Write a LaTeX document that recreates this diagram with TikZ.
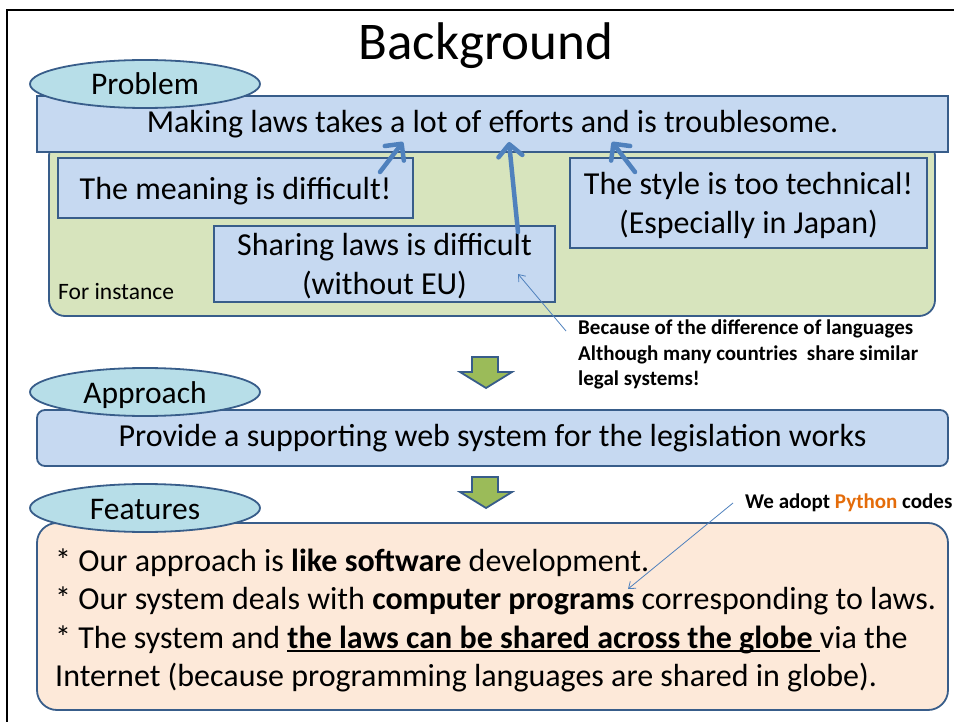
\documentclass[tikz,border=0pt]{standalone}
\usepackage{fontspec}
\setmainfont{Carlito}
\usetikzlibrary{arrows.meta,shapes.geometric}
\definecolor{barfill}{HTML}{C6D9F1}
\definecolor{edge}{HTML}{385D8A}
\definecolor{ellfill}{HTML}{B7DEE8}
\definecolor{greenfill}{HTML}{D7E4BD}
\definecolor{arrowgreen}{HTML}{9BBB59}
\definecolor{peach}{HTML}{FDE9D9}
\definecolor{thickblue}{HTML}{4F81BD}
\definecolor{pyorange}{HTML}{E46C0A}
\newcommand{\ulbold}[1]{\setbox0\hbox{\textbf{#1}}\rlap{\rule[-3.5pt]{\wd0}{1.6pt}}\box0}
\tikzset{
  bar/.style={draw=edge, fill=barfill, line width=1.8pt, inner sep=0pt},
  tag/.style={ellipse, draw=edge, fill=ellfill, line width=1.8pt, minimum width=230pt, minimum height=48pt, inner sep=0pt, text height=22pt, text depth=0pt, font=\fontsize{31.5}{36}\selectfont},
  bigtxt/.style={font=\fontsize{32}{39}\selectfont},
  flat/.style={text depth=0pt},
  featline/.style={anchor=base west, inner sep=0pt, font=\fontsize{32}{38}\selectfont},
  thickarrow/.style={draw=thickblue, line width=4.5pt, line cap=round, -{Straight Barb[length=12pt,width=24pt,round]}},
  thinarrow/.style={draw=thickblue, line width=0.8pt, -{Straight Barb[length=6pt,width=9pt]}},
  blockarrow/.style={draw=edge, fill=arrowgreen, line width=1.8pt, line join=miter},
  note/.style={inner sep=0pt, font=\fontsize{21}{25.5}\selectfont\bfseries},
}
\begin{document}
\begin{tikzpicture}[x=1pt,y=-1pt]
\useasboundingbox (0,0) rectangle (954,722);
% slide frame
\draw[line width=2pt] (7,730) -- (7,10) -- (960,10);
% title
\node[font=\fontsize{53}{60}\selectfont] (title) at (486,46) {Background};
% green "for instance" area
\draw[draw=edge, fill=greenfill, line width=1.8pt, rounded corners=16pt] (49,140) rectangle (935,316);
\node[anchor=base west, inner sep=0pt, font=\fontsize{23.5}{28}\selectfont] (forinst) at (58,300) {For instance};
% problem bar
\node[bar, minimum width=911pt, minimum height=56pt, bigtxt] (problem) at (492.5,124) {Making laws takes a lot of efforts and is troublesome.};
\node[tag] (problemtag) at (145,84) {Problem};
% sub boxes
\node[bar, flat, minimum width=355pt, minimum height=60pt, bigtxt] (meaning) at (235.5,188) {The meaning is difficult!};
\node[bar, flat, minimum width=341pt, minimum height=76pt, bigtxt, align=center] (sharing) at (384.5,264) {Sharing laws is difficult\\(without EU)};
\node[bar, flat, minimum width=357pt, minimum height=90pt, bigtxt, align=center] (style) at (748.5,203) {The style is too technical!\\(Especially in Japan)};
% thick arrows
\coordinate (a1s) at (380,172);
\coordinate (a1e) at (403,142);
\coordinate (a2s) at (518,232);
\coordinate (a2e) at (509,142);
\coordinate (a3s) at (635,172);
\coordinate (a3e) at (612,142);
\draw[thickarrow] (a1s) -- (a1e);
\draw[thickarrow] (a2s) -- (a2e);
\draw[thickarrow] (a3s) -- (a3e);
% callout
\node[note, anchor=north west, align=left] (callout) at (578,320) {Because of the difference of languages\\Although many countries\ \ share similar\\legal systems!};
\coordinate (c1s) at (566,331);
\coordinate (c1e) at (518,274);
\draw[thinarrow] (c1s) -- (c1e);
% green block arrows
\draw[blockarrow] (472,357) -- (498,357) -- (498,372) -- (512,372) -- (486,388) -- (460,372) -- (472,372) -- cycle;
\draw[blockarrow] (472,477) -- (498,477) -- (498,492) -- (512,492) -- (486,508) -- (460,492) -- (472,492) -- cycle;
% approach
\node[bar, rounded corners=8pt, minimum width=911pt, minimum height=56pt, bigtxt] (approach) at (492.5,438) {Provide a supporting web system for the legislation works};
\node[tag] (approachtag) at (145,392) {Approach};
% features
\draw[draw=edge, fill=peach, line width=1.8pt, rounded corners=20pt] (37,523) rectangle (948,710);
\node[tag] (featurestag) at (145,508) {Features};
\node[featline] (f1) at (55,571) {* Our approach is \textbf{like software} development.};
\node[featline] (f2) at (55,609) {* Our system deals with \textbf{computer programs} corresponding to laws.};
\node[featline] (f3) at (55,648) {* The system and \ulbold{the laws can be shared across the globe\ }via the};
\node[featline] (f4) at (55,686) {Internet (because programming languages are shared in globe).};
% python note
\node[note, anchor=west] (python) at (745,503) {We adopt \textcolor{pyorange}{Python} codes};
\coordinate (ps) at (733,503);
\coordinate (pe) at (628,589);
\draw[thinarrow] (ps) -- (pe);
\end{tikzpicture}
\end{document}
